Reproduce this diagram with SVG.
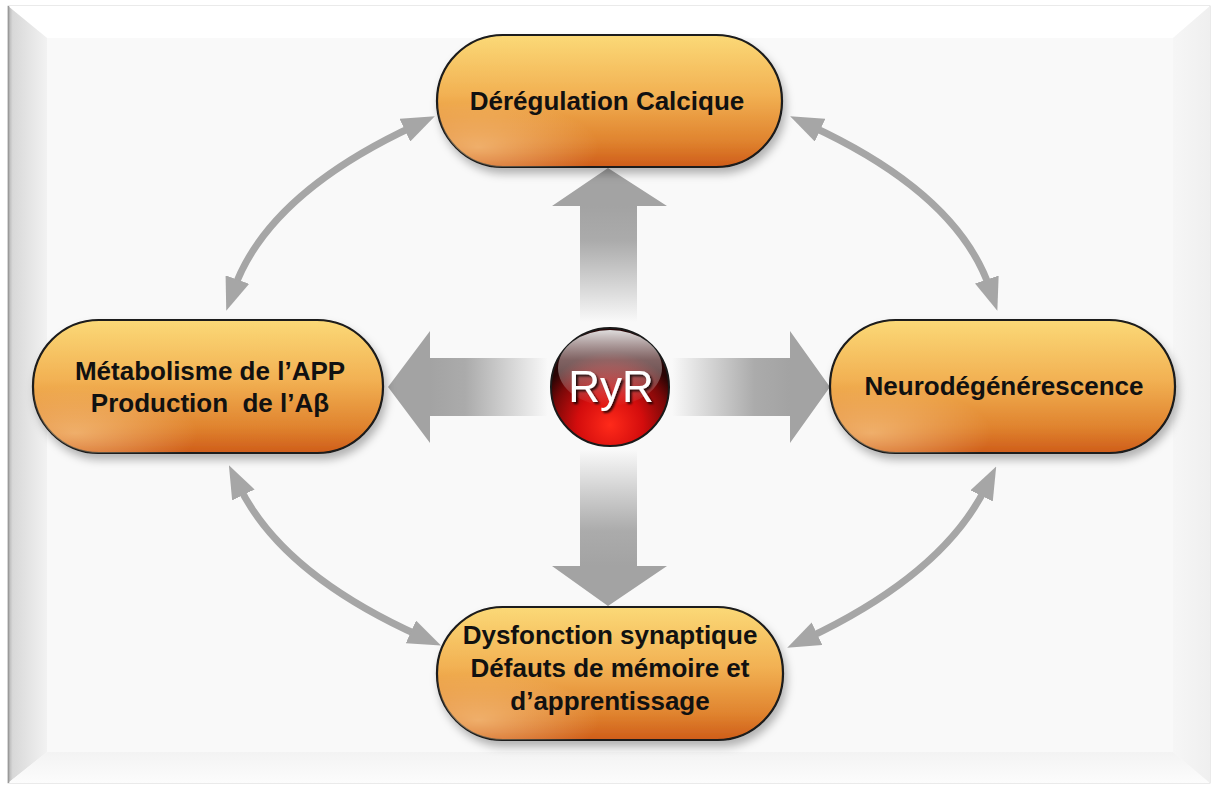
<svg xmlns="http://www.w3.org/2000/svg" width="1217" height="787" viewBox="0 0 1217 787">
<style>
.pill{fill:url(#pillGrad);stroke:#1a1a1a;stroke-width:2.2;filter:url(#shadow)}
.lbl{font-family:"Liberation Sans",Arial,sans-serif;font-weight:bold;font-size:26px;fill:#111;text-anchor:middle}
.curve{fill:none;stroke:#a6a6a6;stroke-width:7;marker-start:url(#head);marker-end:url(#head)}
</style>
<defs>
<linearGradient id="pillGrad" x1="0" y1="0" x2="0" y2="1">
<stop offset="0" stop-color="#fbd977"/>
<stop offset="0.45" stop-color="#f2b153"/>
<stop offset="0.8" stop-color="#e0842f"/>
<stop offset="1" stop-color="#cf5d1a"/>
</linearGradient>
<radialGradient id="pillGlow" cx="0.12" cy="0.85" r="0.35">
<stop offset="0" stop-color="#ffd9a0" stop-opacity="0.55"/>
<stop offset="1" stop-color="#ffd9a0" stop-opacity="0"/>
</radialGradient>
<filter id="shadow" x="-10%" y="-20%" width="125%" height="150%">
<feGaussianBlur in="SourceAlpha" stdDeviation="4"/>
<feOffset dx="3" dy="6" result="b"/>
<feFlood flood-color="#000" flood-opacity="0.28"/>
<feComposite in2="b" operator="in"/>
<feMerge><feMergeNode/><feMergeNode in="SourceGraphic"/></feMerge>
</filter>
<filter id="txtShadow" x="-20%" y="-20%" width="140%" height="140%">
<feGaussianBlur in="SourceAlpha" stdDeviation="1.2"/>
<feOffset dx="1.5" dy="2" result="b"/>
<feFlood flood-color="#000" flood-opacity="0.8"/>
<feComposite in2="b" operator="in"/>
<feMerge><feMergeNode/><feMergeNode in="SourceGraphic"/></feMerge>
</filter>
<marker id="head" viewBox="0 0 33 25" markerWidth="33" markerHeight="25" markerUnits="userSpaceOnUse" refX="10" refY="12.5" orient="auto-start-reverse">
<path d="M0,0 L33,12.5 L0,25 z" fill="#a6a6a6"/>
</marker>
<linearGradient id="leftBevel" x1="0" y1="0" x2="1" y2="0">
<stop offset="0" stop-color="#b0b0b0"/>
<stop offset="0.12" stop-color="#d8d8d8"/>
<stop offset="1" stop-color="#f2f2f2"/>
</linearGradient>
<linearGradient id="rightBevel" x1="0" y1="0" x2="1" y2="0">
<stop offset="0" stop-color="#f6f6f6"/>
<stop offset="1" stop-color="#efefef"/>
</linearGradient>
<linearGradient id="bottomBevel" x1="0" y1="0" x2="0" y2="1">
<stop offset="0" stop-color="#f3f3f3"/>
<stop offset="1" stop-color="#fcfcfc"/>
</linearGradient>
<linearGradient id="gUp" gradientUnits="userSpaceOnUse" x1="0" y1="206" x2="0" y2="322">
<stop offset="0" stop-color="#a3a3a3"/>
<stop offset="0.3" stop-color="#ababab"/>
<stop offset="1" stop-color="#a8a8a8" stop-opacity="0"/>
</linearGradient>
<linearGradient id="gDown" gradientUnits="userSpaceOnUse" x1="0" y1="566" x2="0" y2="450">
<stop offset="0" stop-color="#a3a3a3"/>
<stop offset="0.3" stop-color="#ababab"/>
<stop offset="1" stop-color="#a8a8a8" stop-opacity="0"/>
</linearGradient>
<linearGradient id="gLeft" gradientUnits="userSpaceOnUse" x1="430" y1="0" x2="548" y2="0">
<stop offset="0" stop-color="#a3a3a3"/>
<stop offset="0.3" stop-color="#ababab"/>
<stop offset="1" stop-color="#a8a8a8" stop-opacity="0"/>
</linearGradient>
<linearGradient id="gRight" gradientUnits="userSpaceOnUse" x1="790" y1="0" x2="672" y2="0">
<stop offset="0" stop-color="#a3a3a3"/>
<stop offset="0.3" stop-color="#ababab"/>
<stop offset="1" stop-color="#a8a8a8" stop-opacity="0"/>
</linearGradient>
<radialGradient id="ballRed" cx="0.5" cy="0.82" r="0.62">
<stop offset="0" stop-color="#ff2a1a"/>
<stop offset="0.45" stop-color="#d40d0d"/>
<stop offset="0.8" stop-color="#7a0808"/>
<stop offset="1" stop-color="#2a0404"/>
</radialGradient>
<linearGradient id="ballGloss" x1="0" y1="0" x2="0" y2="1">
<stop offset="0" stop-color="#e8e8e8" stop-opacity="0.95"/>
<stop offset="0.4" stop-color="#b8a0a0" stop-opacity="0.6"/>
<stop offset="1" stop-color="#ffffff" stop-opacity="0"/>
</linearGradient>
</defs>

<g id="frame">
<rect x="8" y="6" width="1202" height="777" fill="#f9f9f9" stroke="#d6d6d6" stroke-width="1"/>
<polygon points="8,6 1210,6 1173,38 47,38" fill="#ffffff"/>
<polygon points="8,6 47,38 47,752 8,783" fill="url(#leftBevel)"/>
<polygon points="8,783 47,752 1173,752 1210,783" fill="url(#bottomBevel)"/>
<polygon points="1210,6 1173,38 1173,752 1210,783" fill="url(#rightBevel)"/>
<rect x="47" y="38" width="1126" height="714" fill="#f9f9f9"/>
<line x1="8.5" y1="6" x2="8.5" y2="783" stroke="#9a9a9a" stroke-width="1.5"/>
</g>

<g id="connectors">
<path class="curve" d="M414,126 Q268,194 234,289"/>
<path class="curve" d="M811,126 Q958,194 990,289"/>
<path class="curve" d="M239,486 Q282,574 420,636"/>
<path class="curve" d="M986,487 Q943,574 808,638"/>
<polygon id="arrowUp" points="608,168 667,206 637,206 637,322 580,322 580,206 552,206" fill="url(#gUp)"/>
<polygon id="arrowDown" points="608,606 667,566 637,566 637,450 580,450 580,566 552,566" fill="url(#gDown)"/>
<polygon id="arrowLeft" points="388,387 430,331 430,358 548,358 548,416 430,416 430,443" fill="url(#gLeft)"/>
<polygon id="arrowRight" points="830,387 790,331 790,358 672,358 672,416 790,416 790,443" fill="url(#gRight)"/>
</g>

<g id="node-ryr">
<circle cx="610" cy="387" r="59" fill="url(#ballRed)" stroke="#1a1a1a" stroke-width="2"/>
<ellipse cx="610" cy="368" rx="52" ry="38" fill="url(#ballGloss)"/>
<text x="611" y="402" font-family="'Liberation Sans',Arial,sans-serif" font-size="44" fill="#ffffff" text-anchor="middle" filter="url(#txtShadow)">RyR</text>
</g>

<g id="node-calcique">
<rect class="pill" x="437" y="35" width="345" height="132" rx="66"/>
<rect x="437" y="35" width="345" height="132" rx="66" fill="url(#pillGlow)"/>
<text class="lbl" x="607" y="110">Dérégulation Calcique</text>
</g>

<g id="node-app">
<rect class="pill" x="33" y="320" width="350" height="133" rx="66"/>
<rect x="33" y="320" width="350" height="133" rx="66" fill="url(#pillGlow)"/>
<text class="lbl" x="210" y="380">Métabolisme de l’APP</text>
<text class="lbl" x="210" y="412" xml:space="preserve" style="white-space:pre">Production  de l’Aβ</text>
</g>

<g id="node-neuro">
<rect class="pill" x="830" y="320" width="345" height="133" rx="66"/>
<rect x="830" y="320" width="345" height="133" rx="66" fill="url(#pillGlow)"/>
<text class="lbl" x="1004" y="395">Neurodégénérescence</text>
</g>

<g id="node-synaptique">
<rect class="pill" x="437" y="607" width="346" height="133" rx="66"/>
<rect x="437" y="607" width="346" height="133" rx="66" fill="url(#pillGlow)"/>
<text class="lbl" x="610" y="644">Dysfonction synaptique</text>
<text class="lbl" x="610" y="677">Défauts de mémoire et</text>
<text class="lbl" x="610" y="710">d’apprentissage</text>
</g>
</svg>
